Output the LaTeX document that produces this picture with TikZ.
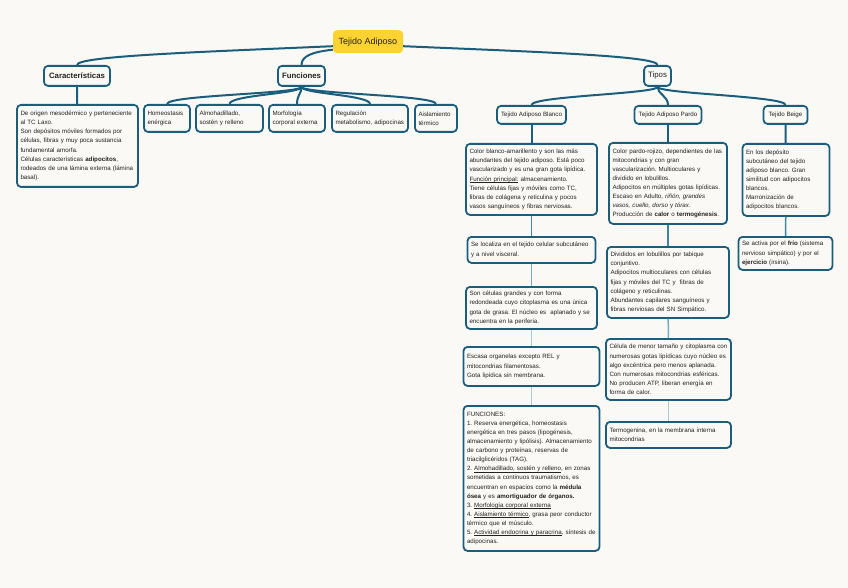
\documentclass[tikz,border=0pt]{standalone}
\usepackage{fontspec}
\setmainfont{Liberation Sans}
\definecolor{paper}{RGB}{251,249,246}
\definecolor{rootfill}{RGB}{253,211,49}
\definecolor{mapline}{RGB}{27,94,124}
\definecolor{fadeone}{RGB}{62,134,162}
\definecolor{fadetwo}{RGB}{122,170,192}
\definecolor{fadethree}{RGB}{172,201,215}
\definecolor{ink}{RGB}{34,34,34}
\newsavebox\undlbox
\newcommand{\undl}[1]{\leavevmode\sbox\undlbox{#1}\rlap{\rule[-1.1pt]{\wd\undlbox}{0.35pt}}\usebox\undlbox}
\tikzset{%
    every node/.style={text=ink, anchor=north},
    root/.style={fill=rootfill, rounded corners=4pt, minimum width=70pt,
        minimum height=23pt, font=\fontsize{9}{11}\selectfont},
    head/.style={draw=mapline, line width=1.8pt, fill=paper, rounded corners=4pt,
        minimum height=20pt, inner xsep=4pt, font=\fontsize{7.8}{9}\selectfont},
    kind/.style={draw=mapline, line width=1.8pt, fill=paper, rounded corners=4pt,
        minimum height=18pt, inner xsep=4pt, font=\fontsize{6.2}{7.5}\selectfont},
    leaf/.style={draw=mapline, line width=1.8pt, fill=paper, rounded corners=4pt,
        align=left, inner xsep=3.5pt, font=\fontsize{6.2}{9.1}\selectfont\frenchspacing},
    link/.style={draw=mapline, line width=2pt},
    fadeA/.style={draw=fadeone, line width=1.5pt},
    fadeB/.style={draw=fadetwo, line width=1.5pt},
    fadeC/.style={draw=fadethree, line width=1.5pt}
}
\begin{document}
\begin{tikzpicture}[x=1pt, y=-1pt]
  \fill[paper] (0,0) rectangle (848,588);
  \useasboundingbox (0,0) rectangle (848,588);

  \node (root) [root] at (368,30) {Tejido Adiposo};

  \node (car) [head, minimum width=66pt] at (77,65) {\bfseries Características};
  \node (fun) [head, minimum width=47pt] at (301.5,65) {\bfseries Funciones};
  \node (tip) [head, minimum width=25pt] at (657.5,65) {Tipos};

  \node (cart) [leaf, text width=114pt, minimum height=82pt] at (77.5,104) {%
    De origen mesodérmico y perteneciente\\
    al TC Laxo.\\
    Son depósitos móviles formados por\\
    células, fibras y muy poca sustancia\\
    fundamental amorfa.\\
    Células características \textbf{adipocitos},\\
    rodeados de una lámina externa (lámina\\
    basal).};

  \node (f1) [leaf, text width=39pt, minimum height=27pt] at (167,104) {Homeostasis\\enérgica};
  \node (f2) [leaf, text width=60pt, minimum height=27pt] at (229.5,104) {Almohadillado,\\sostén y relleno};
  \node (f3) [leaf, text width=49pt, minimum height=27pt] at (297,104) {Morfología\\corporal externa};
  \node (f4) [leaf, text width=69pt, minimum height=27pt] at (370,104) {Regulación\\metabolismo, adipocinas};
  \node (f5) [leaf, text width=35pt, minimum height=27pt] at (436,104) {Aislamiento\\térmico};

  \node (blanco) [kind, minimum width=69pt] at (531.5,105) {Tejido Adiposo Blanco};
  \node (pardo) [kind, minimum width=67pt] at (668,105) {Tejido Adiposo Pardo};
  \node (beige) [kind, minimum width=44pt] at (785.5,105) {Tejido Beige};

  % tejido adiposo blanco
  \node (b1) [leaf, text width=124pt, minimum height=71pt] at (531.5,143) {%
    Color blanco-amarillento y son las más\\
    abundantes del tejido adiposo. Está poco\\
    vascularizado y es una gran gota lipídica.\\
    \undl{Función principal:} almacenamiento.\\
    Tiene células fijas y móviles como TC,\\
    fibras de colágena y reticulina y pocos\\
    vasos sanguíneos y fibras nerviosas.};
  \node (b2) [leaf, text width=121pt, minimum height=26pt] at (531.5,236) {%
    Se localiza en el tejido celular subcutáneo\\
    y a nivel visceral.};
  \node (b3) [leaf, text width=124pt, minimum height=42pt] at (531.5,286) {%
    Son células grandes y con forma\\
    redondeada cuyo citoplasma es una única\\
    gota de grasa. El núcleo es \ aplanado y se\\
    encuentra en la periferia.};
  \node (b4) [leaf, text width=129pt, minimum height=39pt] at (531.5,346) {%
    Escasa organelas excepto REL y\\
    mitocondrias filamentosas.\\
    Gota lipídica sin membrana.};
  \node (b5) [leaf, text width=129pt, minimum height=145pt] at (531.5,405) {%
    FUNCIONES:\\
    1. Reserva energética, homeostasis\\
    energética en tres pasos (lipogénesis,\\
    almacenamiento y lipólisis). Almacenamiento\\
    de carbono y proteínas, reservas de\\
    triacilglicéridos (TAG).\\
    2. \undl{Almohadillado, sostén y relleno}, en zonas\\
    sometidas a continuos traumatismos, es\\
    encuentran en espacios como la \textbf{médula}\\
    \textbf{ósea} y es \textbf{amortiguador de órganos.}\\
    3. \undl{Morfología corporal externa}\\
    4. \undl{Aislamiento térmico}, grasa peor conductor\\
    térmico que el músculo.\\
    5. \undl{Actividad endocrina y paracrina}, síntesis de\\
    adipocinas.};

  % tejido adiposo pardo
  \node (p1) [leaf, text width=111pt, minimum height=81pt] at (668,142) {%
    Color pardo-rojizo, dependientes de las\\
    mitocondrias y con gran\\
    vascularización. Multioculares y\\
    dividido en lobulillos.\\
    Adipocitos en múltiples gotas lipídicas.\\
    Escaso en Adulto, \textit{riñón, grandes}\\
    \textit{vasos, cuello, dorso} y \textit{tórax}.\\
    Producción de \textbf{calor} o \textbf{termogénesis}.};
  \node (p2) [leaf, text width=115pt, minimum height=71pt] at (668,246) {%
    Divididos en lobulillos por tabique\\
    conjuntivo.\\
    Adipocitos multioculares con células\\
    fijas y móviles del TC y \ fibras de\\
    colágeno y reticulinas.\\
    Abundantes capilares sanguíneos y\\
    fibras nerviosas del SN Simpático.};
  \node (p3) [leaf, text width=118pt, minimum height=61pt] at (668.5,338) {%
    Célula de menor tamaño y citoplasma con\\
    numerosas gotas lipídicas cuyo núcleo es\\
    algo excéntrica pero menos aplanada.\\
    Con numerosas mitocondrias esféricas.\\
    No producen ATP, liberan energía en\\
    forma de calor.};
  \node (p4) [leaf, text width=118pt, minimum height=26pt] at (668.5,421) {%
    Termogenina, en la membrana interna\\
    mitocondrias};

  % tejido beige
  \node (g1) [leaf, text width=80pt, minimum height=72pt] at (786,143) {%
    En los depósito\\
    subcutáneo del tejido\\
    adiposo blanco. Gran\\
    similitud con adipocitos\\
    blancos.\\
    Marronización de\\
    adipocitos blancos.};
  \node (g2) [leaf, text width=87pt, minimum height=33pt] at (785.5,236) {%
    Se activa por el \textbf{frío} (sistema\\
    nervioso simpático) y por el\\
    \textbf{ejercicio} (irsina).};

  \draw[link] ([yshift=-4.5pt]root.west) .. controls (200,52) and (77,56) .. (car.north);
  \draw[link] ([yshift=-8pt]root.west) .. controls (312,52) and (301.5,56) .. (fun.north);
  \draw[link] ([yshift=-4.5pt]root.east) .. controls (540,52) and (657.5,56) .. (tip.north);

  \foreach \c in {f1,f2,f3,f4,f5}
    \draw[link] (fun.south) .. controls +(0,7) and +(0,-9) .. (\c.north);
  \foreach \c in {blanco,pardo,beige}
    \draw[link] (tip.south) .. controls +(0,7) and +(0,-9) .. (\c.north);

  \draw[link] (car) -- (cart);
  \draw[link] (blanco) -- (b1);
  \draw[link] (pardo) -- (p1);
  \draw[link] (beige) -- (g1);

  \draw[fadeA] (b1) -- (b2);
  \draw[fadeB] (b2) -- (b3);
  \draw[fadeC] (b3) -- (b4);
  \draw[fadeC] (b4) -- (b5);
  \draw[fadeA] (p1) -- (p2);
  \draw[fadeB] (p2) -- (p3);
  \draw[fadeC] (p3) -- (p4);
  \draw[fadeA] (g1) -- (g2);
\end{tikzpicture}
\end{document}
